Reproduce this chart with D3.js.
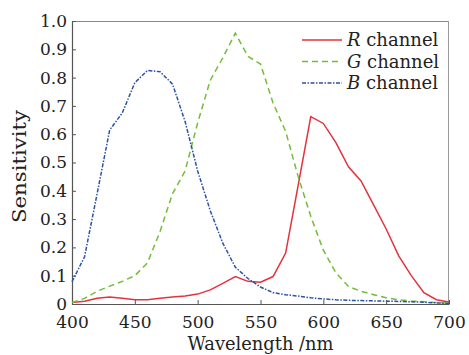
<!DOCTYPE html>
<html><head><meta charset="utf-8">
<script src="https://cdn.jsdelivr.net/npm/d3@7"></script>
<style>html,body{margin:0;padding:0;background:#fff;}svg{display:block;}</style>
</head><body>
<script>
const wavelengths = [400,410,420,430,440,450,460,470,480,490,500,510,520,530,540,550,560,570,580,590,600,610,620,630,640,650,660,670,680,690,700];
const rChannel = [0.005,0.01,0.02,0.025,0.02,0.015,0.015,0.02,0.025,0.028,0.035,0.05,0.073,0.097,0.08,0.077,0.097,0.18,0.42,0.662,0.638,0.57,0.485,0.435,0.35,0.265,0.17,0.1,0.04,0.015,0.007];
const gChannel = [0.005,0.02,0.045,0.063,0.08,0.1,0.145,0.255,0.39,0.47,0.64,0.79,0.87,0.957,0.875,0.848,0.71,0.61,0.45,0.31,0.19,0.11,0.062,0.045,0.033,0.022,0.015,0.011,0.008,0.005,0.003];
const bChannel = [0.079,0.167,0.39,0.615,0.675,0.782,0.825,0.821,0.777,0.645,0.47,0.33,0.215,0.13,0.09,0.06,0.04,0.033,0.028,0.022,0.018,0.015,0.013,0.012,0.011,0.01,0.009,0.008,0.006,0.004,0.002];
const xTicks = [400,450,500,550,600,650,700];
const yTicks = [0,0.1,0.2,0.3,0.4,0.5,0.6,0.7,0.8,0.9,1.0];
const yTickLabels = ["0","0.1","0.2","0.3","0.4","0.5","0.6","0.7","0.8","0.9","1.0"];
const seriesNames = ["R channel","G channel","B channel"];

const W = 469, H = 355;
const L = 72, R = 449, T = 21, B = 304;
const font = "'DejaVu Serif', serif";

const svg = d3.select("body").append("svg").attr("width", W).attr("height", H)
  .style("background", "#fff");

const x = d3.scaleLinear().domain([400,700]).range([L,R]);
const y = d3.scaleLinear().domain([0,1]).range([B,T]);

// frame
svg.append("line").attr("x1",L).attr("x2",R).attr("y1",T+0.5).attr("y2",T+0.5).attr("stroke","#888").attr("stroke-width",1);
svg.append("line").attr("x1",R-0.5).attr("x2",R-0.5).attr("y1",T).attr("y2",B).attr("stroke","#999").attr("stroke-width",1);

// axes
const yAxis = d3.axisLeft(y).tickValues(yTicks).tickFormat((d,i)=>yTickLabels[i]).tickSizeInner(-4).tickSizeOuter(0).tickPadding(5);
const gy = svg.append("g").attr("transform",`translate(${L},0)`).call(yAxis);
const xAxis = d3.axisBottom(x).tickValues(xTicks).tickFormat(d3.format("d")).tickSizeInner(-4).tickSizeOuter(0).tickPadding(12);
const gx = svg.append("g").attr("transform",`translate(0,${B})`).call(xAxis);
[gx, gy].forEach(g => {
  g.select(".domain").attr("stroke","#555").attr("stroke-width",1.2);
  g.selectAll(".tick line").attr("stroke","#555");
  g.selectAll(".tick text").attr("font-family",font).attr("font-size",17).attr("fill","#222");
});

// axis titles
svg.append("text").attr("x",(L+R)/2).attr("y",350).attr("text-anchor","middle")
  .attr("font-family",font).attr("font-size",18).attr("fill","#222")
  .attr("textLength",146).attr("lengthAdjust","spacingAndGlyphs").text("Wavelength /nm");
svg.append("text").attr("transform",`translate(26,${(T+B)/2+4}) rotate(-90)`).attr("text-anchor","middle")
  .attr("font-family",font).attr("font-size",18).attr("fill","#222")
  .attr("textLength",113).attr("lengthAdjust","spacingAndGlyphs").text("Sensitivity");

// series
const styles = [
  {data:rChannel, color:"#e5323d", dash:null},
  {data:gChannel, color:"#74bd3c", dash:"6,4"},
  {data:bChannel, color:"#2b52a3", dash:"4,1.5,1.5,1.5"}
];
const line = d3.line().x((d,i)=>x(wavelengths[i])).y(d=>y(d));
styles.forEach(s => {
  svg.append("path").datum(s.data).attr("d",line).attr("fill","none")
    .attr("stroke",s.color).attr("stroke-width",1.5)
    .attr("stroke-dasharray",s.dash);
});

// legend
const legY = [40, 61.5, 83];
styles.forEach((s,i) => {
  svg.append("line").attr("x1",302).attr("x2",342).attr("y1",legY[i]).attr("y2",legY[i])
    .attr("stroke",s.color).attr("stroke-width",1.5).attr("stroke-dasharray",s.dash);
  const parts = seriesNames[i].split(" ");
  const t = svg.append("text").attr("x",347).attr("y",legY[i]+6)
    .attr("font-family",font).attr("font-size",18).attr("fill","#222");
  t.append("tspan").attr("font-style","italic").text(parts[0]);
  t.append("tspan").text(" " + parts[1]);
});
</script>
</body></html>
